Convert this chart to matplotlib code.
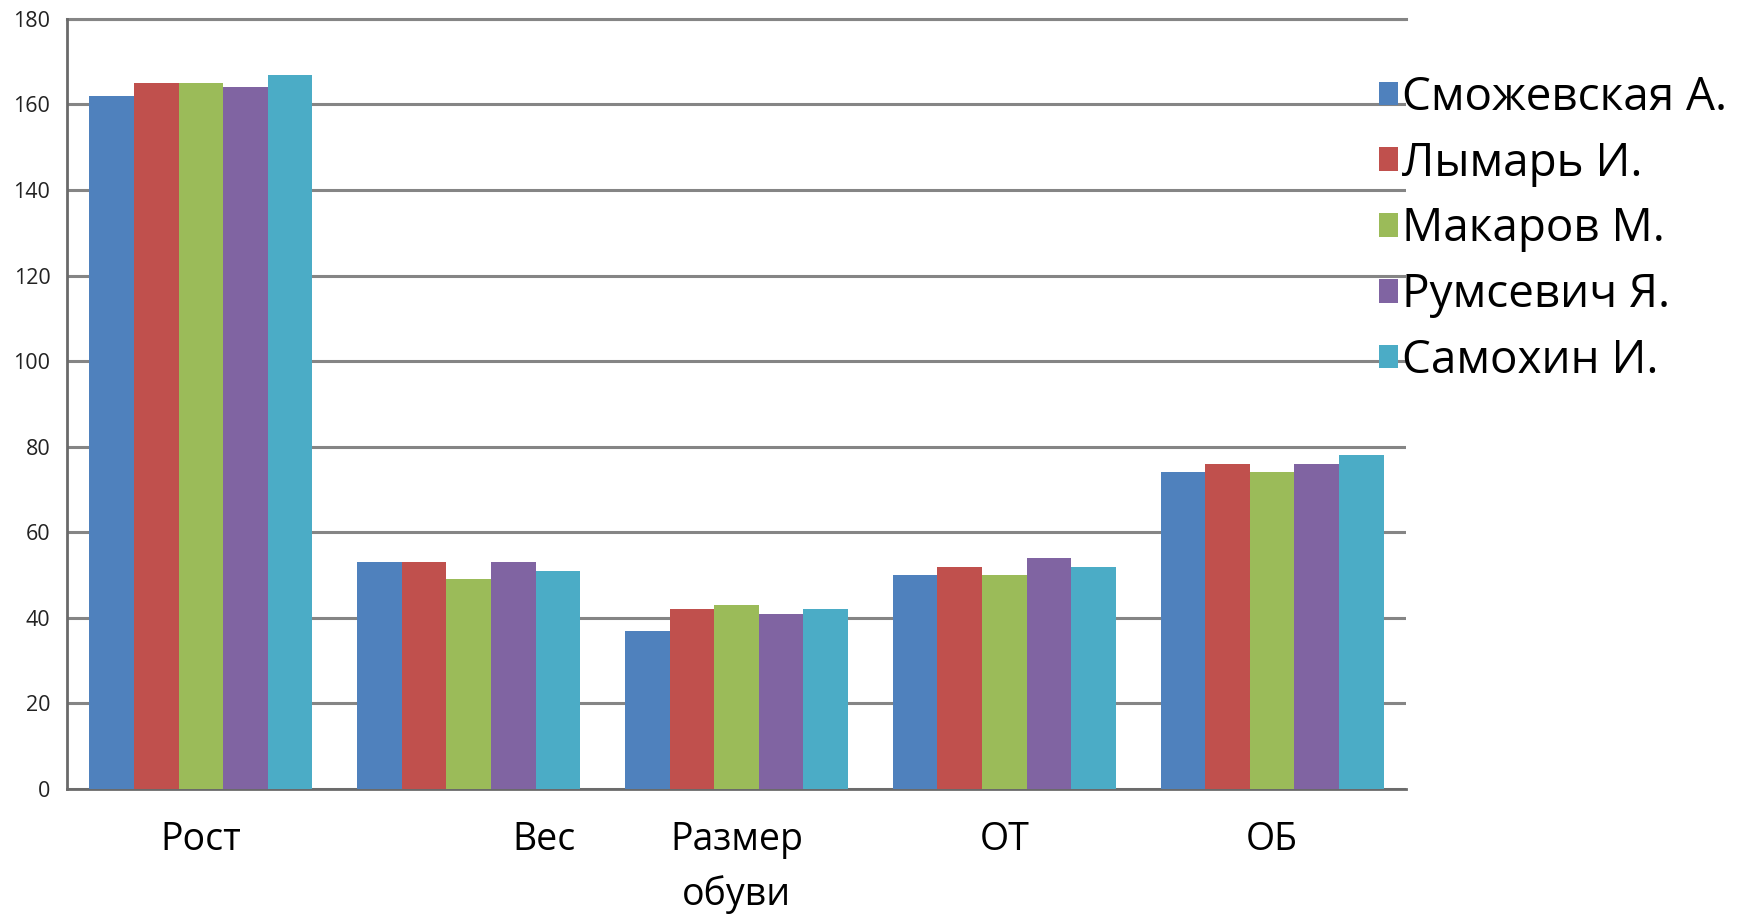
import numpy as np
import matplotlib.pyplot as plt
from matplotlib.transforms import ScaledTranslation

plt.rcParams['font.family'] = ['Open Sans', 'DejaVu Sans']

categories = ["Рост", "Вес", "Размер\nобуви", "ОТ", "ОБ"]
names = ["Сможевская А.", "Лымарь И.", "Макаров М.", "Румсевич Я.", "Самохин И."]
smozhevskaya = [162, 53, 37, 50, 74]
lymar = [165, 53, 42, 52, 76]
makarov = [165, 49, 43, 50, 74]
rumsevich = [164, 53, 41, 54, 76]
samokhin = [167, 51, 42, 52, 78]
series = [smozhevskaya, lymar, makarov, rumsevich, samokhin]
colors = ["#4F81BD", "#C0504D", "#9BBB59", "#8064A2", "#4BACC6"]
yticks = list(range(0, 181, 20))

fig = plt.figure(figsize=(17.54, 9.14), dpi=100)
ax = fig.add_axes([0.0382, 0.1368, 0.7634, 0.8425])

x = np.arange(len(categories))
w = 1 / 6
for i, (vals, nm, c) in enumerate(zip(series, names, colors)):
    ax.bar(x + (i - 2) * w, vals, w, color=c, label=nm, zorder=3)

ax.set_xlim(-0.5, len(categories) - 0.5)
ax.set_ylim(0, 180)
ax.set_yticks(yticks)
ax.grid(axis='y', color='#858585', linewidth=2.2, zorder=0)
ax.set_axisbelow(True)

for s in ['right', 'top']:
    ax.spines[s].set_visible(False)
for s in ['left', 'bottom']:
    ax.spines[s].set_color('#6a6a6a')
    ax.spines[s].set_linewidth(2)
ax.axhline(180, color='#858585', linewidth=2.2, clip_on=False, zorder=0)

ax.set_xticks(x)
ax.set_xticklabels(categories, fontsize=27, linespacing=1.55)
ax.tick_params(axis='x', length=0, pad=23)
ax.tick_params(axis='y', length=0, pad=12, labelsize=15.5, labelcolor='#222222')
# the Вес label sits to the right of its group in the original
lbl = ax.get_xticklabels()[1]
lbl.set_transform(lbl.get_transform() + ScaledTranslation(0.75, 0, fig.dpi_scale_trans))

fig.legend(loc='upper left', bbox_to_anchor=(0.786, 0.918), frameon=False,
           fontsize=33, handlelength=0.42, handleheight=0.42,
           handletextpad=0.08, labelspacing=0.43, borderaxespad=0, borderpad=0)

fig.savefig('out.png', dpi=100)
